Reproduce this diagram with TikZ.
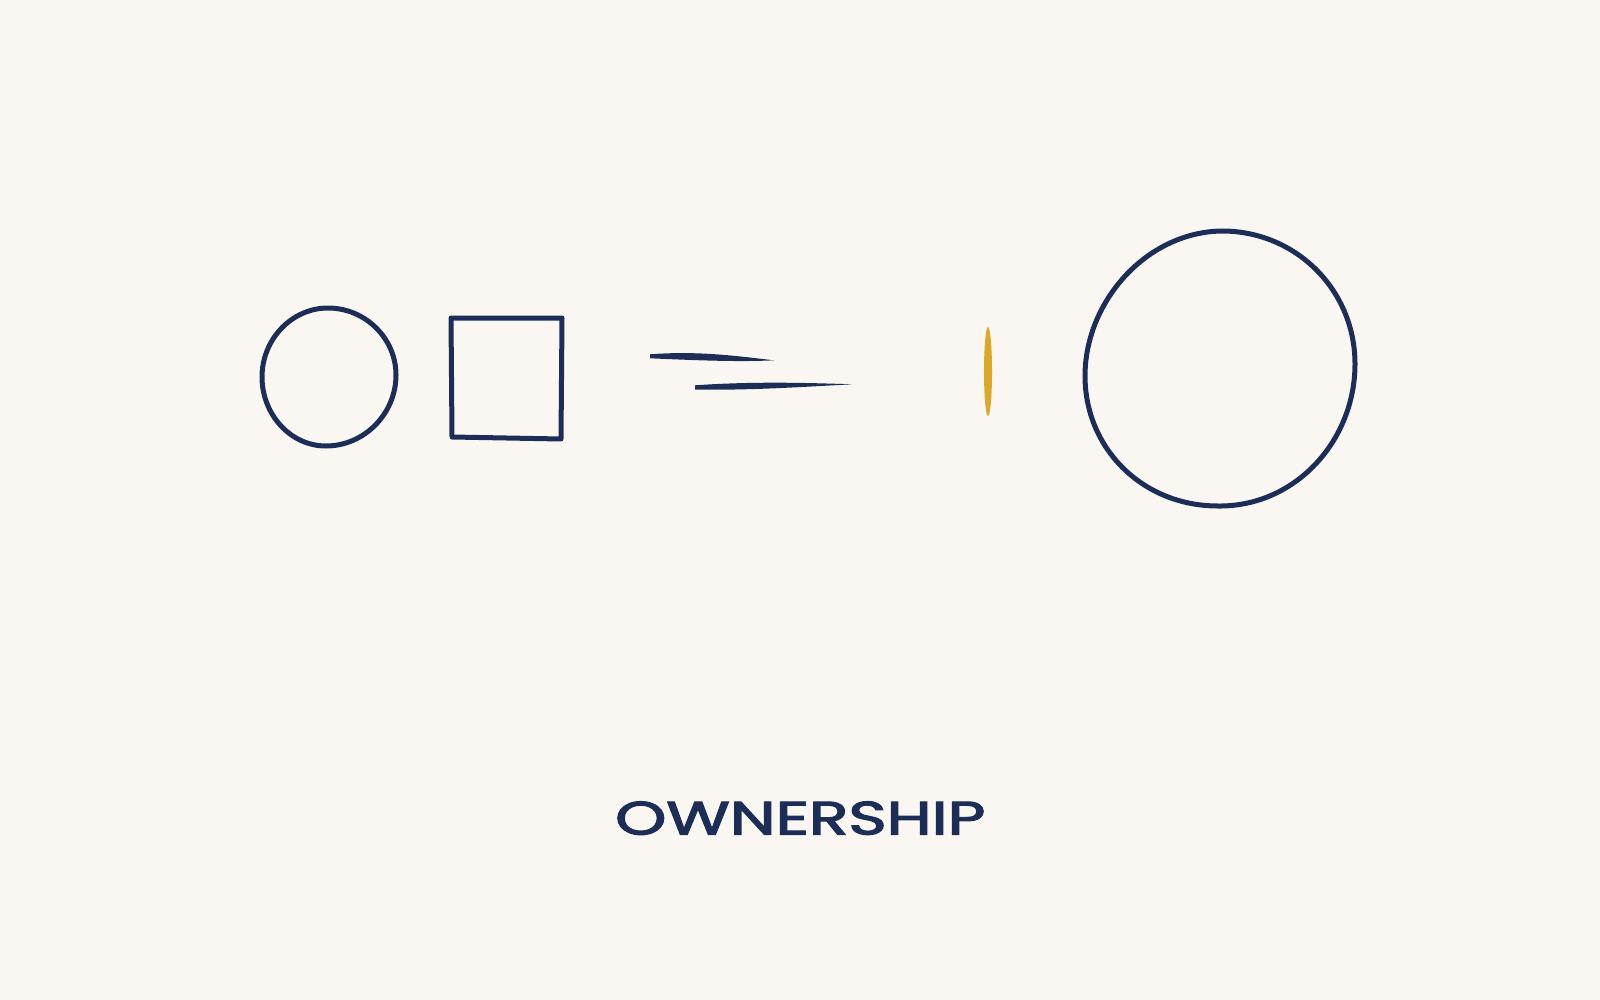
\documentclass[tikz,border=0pt]{standalone}
\usepackage{fontspec}
\setmainfont{Poppins}
\newfontfamily\titlefont[FakeBold=2.5]{Poppins}
\usepackage{graphicx}
\definecolor{paper}{HTML}{FAF7F2}
\definecolor{ink}{HTML}{1C2E57}
\definecolor{gold}{HTML}{DCA827}
\tikzset{
  inkline/.style={draw=ink, line width=5pt, line join=round, line cap=round},
  taper/.style={fill=ink, draw=none},
  label/.style={text=ink, inner sep=0pt, anchor=south west}
}
\begin{document}
\begin{tikzpicture}[x=1pt,y=-1pt]
\fill[paper] (0,0) rectangle (1600,1000);
\useasboundingbox (0,0) rectangle (1600,1000);
% small circle
\draw[inkline] (328,308) .. controls (365,308) and (396,338) .. (396,375)
  .. controls (396,414) and (364,446) .. (326,446)
  .. controls (290,446) and (262,414) .. (262,377)
  .. controls (262,339) and (292,308) .. (328,308) -- cycle;
% square
\draw[inkline] (451,318) -- (562,318) -- (561,439) -- (452,437) -- cycle;
% tapered strokes
\fill[taper] (650,354.3) .. controls (700,350.5) and (740,356.5) .. (774,360.3)
   .. controls (740,362) and (700,360.5) .. (650,358.3) -- cycle;
\fill[taper] (695,385.3) .. controls (750,381.5) and (800,382.5) .. (852,384.3)
   .. controls (800,387) and (750,390.5) .. (695,389.5) -- cycle;
% gold mark
\fill[gold] (988,371.5) ellipse [x radius=4, y radius=44.5];
% big circle
\draw[inkline] (1222,231) .. controls (1296,231) and (1355,290) .. (1355,364)
  .. controls (1355,441) and (1295,507) .. (1218,506)
  .. controls (1142,506) and (1085,448) .. (1085,376)
  .. controls (1085,302) and (1146,232) .. (1222,231) -- cycle;
% label
\node[label] (title) at (615,835) {\resizebox{370pt}{33pt}{\titlefont OWNERSHIP}};
\end{tikzpicture}
\end{document}
